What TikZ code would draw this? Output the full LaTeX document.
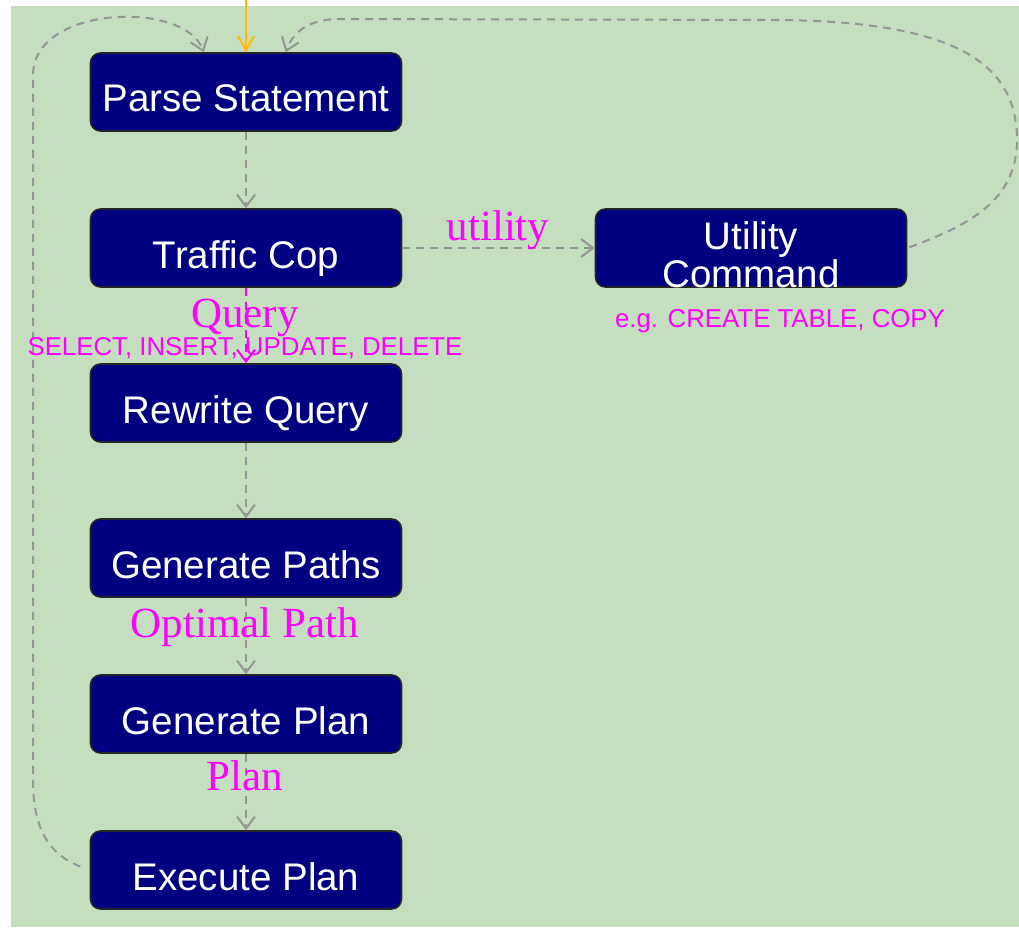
\documentclass[tikz,border=0pt]{standalone}
\usepackage{fontspec}
\usetikzlibrary{arrows.meta}
\newfontfamily\boxfont{Liberation Sans}
\newfontfamily\labfont{Liberation Serif}
\definecolor{bggreen}{RGB}{197,222,192}
\definecolor{boxblue}{RGB}{0,0,128}
\definecolor{flowgray}{RGB}{150,150,150}
\definecolor{entryyellow}{RGB}{255,190,0}
\definecolor{labmag}{RGB}{255,0,255}
\tikzset{
  stepbox/.style={draw=black!85, line width=1.6pt, fill=boxblue, rounded corners=10pt,
    minimum width=311pt, minimum height=78pt, inner sep=0pt, text=white,
    font=\boxfont\fontsize{38.5}{38}\selectfont, text height=40pt, text depth=0pt},
  flow/.style={draw=flowgray, line width=2pt, dash pattern=on 8pt off 6pt,
    -{Straight Barb[length=12pt,width=18pt]}},
  querytip/.style={flow, draw=labmag},
  entrytip/.style={draw=entryyellow, line width=2pt, -{Straight Barb[length=14pt,width=16pt]}},
  biglab/.style={text=labmag, font=\labfont\fontsize{43}{43}\selectfont, anchor=base, inner sep=0pt},
  smalllab/.style={text=labmag, font=\boxfont\fontsize{25.8}{26}\selectfont, anchor=base, inner sep=0pt}
}
\begin{document}
\begin{tikzpicture}[x=1pt,y=-1pt]
  \useasboundingbox (0,0) rectangle (1019,928);
  \fill[white] (0,0) rectangle (1019,928);
  \fill[bggreen] (11,6) rectangle (1019,927);

  % main pipeline
  \node[stepbox] (parse)   at (246,92)  {Parse Statement};
  \node[stepbox] (traffic) at (246,248) {Traffic Cop};
  \node[stepbox] (rewrite) at (246,403) {Rewrite Query};
  \node[stepbox] (paths)   at (246,558) {Generate Paths};
  \node[stepbox] (plan)    at (246,714) {Generate Plan};
  \node[stepbox] (exec)    at (246,870) {Execute Plan};
  \node[stepbox, text height=30pt, text depth=28pt] (util) at (751,248)
    {\vtop{\halign{\hfil#\hfil\cr Utility\cr Command\cr}}};

  % entry point
  \coordinate (entry) at (246,0);
  \draw[entrytip] (entry) -- (parse.north);

  % forward flow
  \draw[flow] (parse) -- (traffic);
  \draw[flow] (traffic) -- (util);
  \draw[querytip] (traffic) -- (rewrite);
  \draw[flow] (rewrite) -- (paths);
  \draw[flow] (paths) -- (plan);
  \draw[flow] (plan) -- (exec);

  % loops back to the parser
  \draw[flow, shorten <=10pt] (exec.west) .. controls (50,855) and (33,830) .. (33,780)
    -- (33,75) .. controls (33,5) and (185,0) .. ([xshift=114pt]parse.north west);
  \draw[flow, shorten <=2pt] (util.east) .. controls (970,225) and (1017,200) .. (1017,140)
    .. controls (1017,60) and (950,22) .. (780,20)
    -- (340,19) .. controls (305,19) and (292,35) .. ([xshift=196pt]parse.north west);

  % labels
  \node[biglab] (lutil) at (498,240) {utility};
  \node[biglab] (lquery) at (245,327) {Query};
  \node[smalllab] (lkinds) at (245,355) {SELECT, INSERT, UPDATE, DELETE};
  \node[smalllab] (leg) at (780,327) {e.g. CREATE TABLE, COPY};
  \node[biglab] (lopt) at (245,637) {Optimal Path};
  \node[biglab] (lplan) at (245,790) {Plan};
\end{tikzpicture}
\end{document}
